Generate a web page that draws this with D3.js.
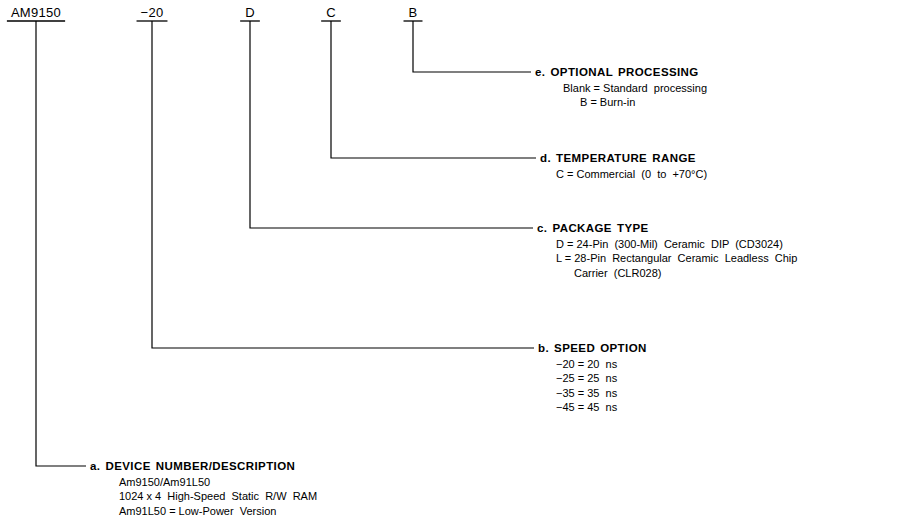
<!DOCTYPE html>
<html>
<head>
<meta charset="utf-8">
<script src="https://cdn.jsdelivr.net/npm/d3@7"></script>
<style>
  html, body { margin: 0; padding: 0; background: #fff; }
  svg { display: block; }
  text { font-family: "Liberation Sans", Arial, Helvetica, sans-serif; fill: #000; }
</style>
</head>
<body>
<svg id="chart" width="900" height="526"></svg>
<script>
// ---- data ----
const codes = ["AM9150", "\u221220", "D", "C", "B"];
const sectionLetters = ["a.", "b.", "c.", "d.", "e."];
const sectionTitles = ["DEVICE NUMBER/DESCRIPTION", "SPEED OPTION", "PACKAGE TYPE", "TEMPERATURE RANGE", "OPTIONAL PROCESSING"];
const sectionLines = [
  ["Am9150/Am91L50", "1024 x 4  High-Speed  Static  R/W  RAM", "Am91L50 = Low-Power  Version"],
  ["\u221220 = 20  ns", "\u221225 = 25  ns", "\u221235 = 35  ns", "\u221245 = 45  ns"],
  ["D = 24-Pin  (300-Mil)  Ceramic  DIP  (CD3024)", "L = 28-Pin  Rectangular  Ceramic  Leadless  Chip", "Carrier  (CLR028)"],
  ["C = Commercial  (0  to  +70\u00B0C)"],
  ["Blank = Standard  processing", "B = Burn-in"]
];

// ---- layout ----
const codeX = d3.scaleOrdinal().domain(codes).range([36, 152, 250, 331, 413]);
const rowY = d3.scaleOrdinal().domain(sectionLetters).range([466, 348, 228, 158, 72]);
const labelX = d3.scaleOrdinal().domain(sectionLetters).range([90, 538, 537, 540, 535]);
const lineIndent = [[29, 29, 29], [18, 18, 18, 18], [19, 19, 37], [16], [28, 45]];
const codeBaseline = 17, underlineY = 21, lineGap = 14.6;

const svg = d3.select("#chart");

// code labels on top
const codeG = svg.selectAll("g.code").data(codes).join("g").attr("class", "code");
codeG.append("text")
  .attr("x", d => codeX(d))
  .attr("y", codeBaseline)
  .attr("text-anchor", "middle")
  .style("font-size", "13px")
  .style("letter-spacing", "0.3px")
  .text(d => d);
codeG.each(function(d) {
  const bb = d3.select(this).select("text").node().getBBox();
  const pad = d.length > 2 ? 4 : 5;
  d3.select(this).append("line")
    .attr("x1", bb.x - pad).attr("x2", bb.x + bb.width + pad)
    .attr("y1", underlineY).attr("y2", underlineY)
    .attr("stroke", "#000").attr("stroke-width", 1.3);
});

// connectors: code i connects to section i
const conn = codes.map((c, i) => ({ code: c, sec: sectionLetters[i], i }));
svg.selectAll("path.conn").data(conn).join("path")
  .attr("class", "conn")
  .attr("fill", "none")
  .attr("stroke", "#000")
  .attr("stroke-width", 1.2)
  .attr("d", d => {
    const x0 = codeX(d.code), y1 = rowY(d.sec), x1 = labelX(d.sec) - 4;
    return d3.line()([[x0, underlineY], [x0, y1], [x1, y1]]);
  });

// section labels
const secG = svg.selectAll("g.sec").data(sectionLetters).join("g").attr("class", "sec");
secG.append("text")
  .attr("x", d => labelX(d))
  .attr("y", d => rowY(d) + 4)
  .style("font-size", "11.5px")
  .style("font-weight", "bold")
  .style("letter-spacing", "0.4px")
  .style("word-spacing", "1.5px")
  .text((d, i) => d + " " + sectionTitles[i]);

secG.each(function(d, i) {
  d3.select(this).selectAll("text.line").data(sectionLines[i]).join("text")
    .attr("class", "line")
    .attr("x", (t, j) => labelX(d) + lineIndent[i][j])
    .attr("y", (t, j) => rowY(d) + 4 + 15.5 + j * lineGap)
    .style("font-size", "11px")
    .style("white-space", "pre")
    .attr("xml:space", "preserve")
    .text(t => t);
});
</script>
</body>
</html>
